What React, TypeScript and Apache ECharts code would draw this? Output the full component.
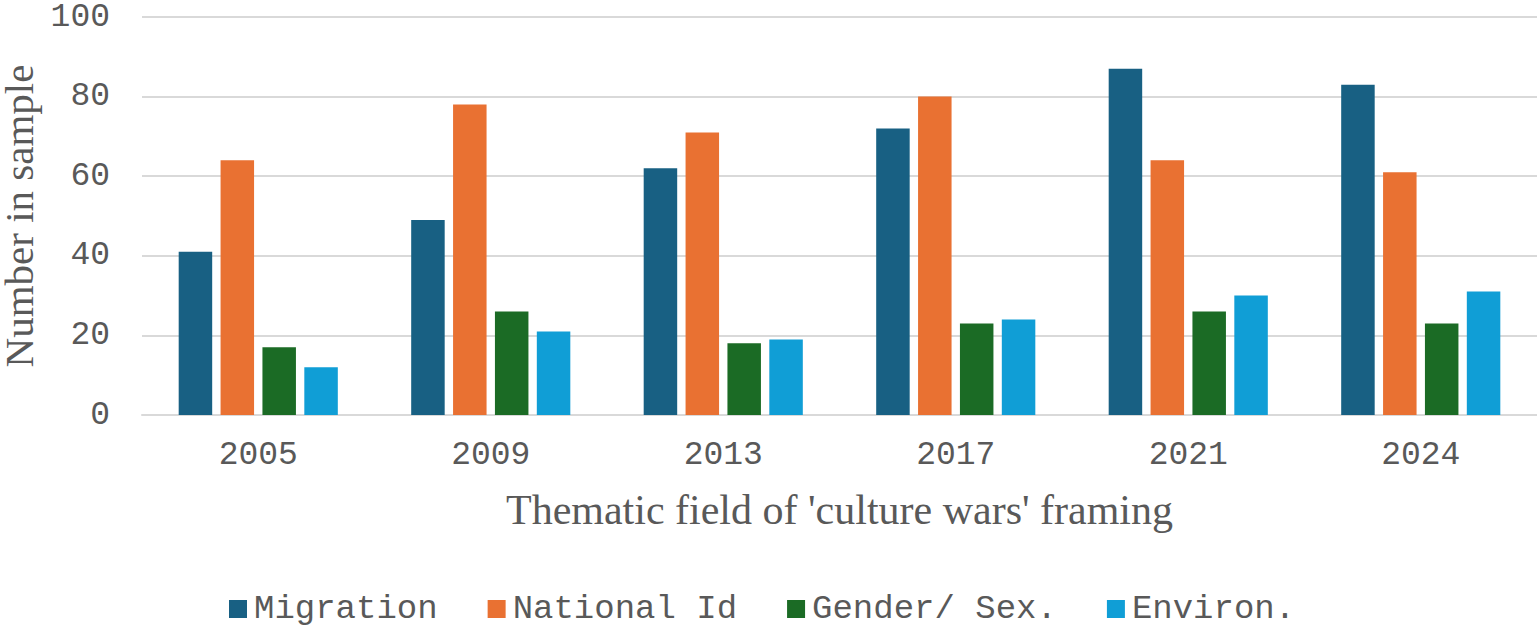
import React, { useEffect, useRef } from "react";
import * as echarts from "echarts";

const years = ["2005", "2009", "2013", "2017", "2021", "2024"];
const seriesNames = ["Migration", "National Id", "Gender/ Sex.", "Environ."];
const migration = [41, 49, 62, 72, 87, 83];
const nationalId = [64, 78, 71, 80, 64, 61];
const genderSex = [17, 26, 18, 23, 26, 23];
const environ = [12, 21, 19, 24, 30, 31];
const colors = ["#186083", "#E97132", "#1B6B25", "#109ED6"];
const yTicks = { min: 0, max: 100, interval: 20 };

const mono = "'Courier New', 'Liberation Mono', monospace";
const serif = "'Times New Roman', 'Liberation Serif', serif";
const grey = "#595959";

export default function App() {
  const ref = useRef<HTMLDivElement>(null);
  useEffect(() => {
    if (!ref.current) return;
    const chart = echarts.init(ref.current, undefined, { renderer: "svg" });
    const values = [migration, nationalId, genderSex, environ];
    chart.setOption({
      animation: false,
      backgroundColor: "#ffffff",
      grid: { left: 142, right: 0, top: 17, bottom: 214, containLabel: false, outerBoundsMode: "none" },
      legend: {
        left: 224,
        top: 587,
        itemWidth: 18,
        itemHeight: 18,
        itemGap: 50,
        icon: "rect",
        textStyle: { fontFamily: mono, fontSize: 34, lineHeight: 32, color: grey, padding: [0, 0, 0, 2] },
        data: seriesNames,
      },
      xAxis: {
        type: "category",
        data: years,
        name: "Thematic field of 'culture wars' framing",
        nameLocation: "middle",
        nameGap: 74,
        nameTextStyle: { fontFamily: serif, fontSize: 42, color: grey },
        axisLine: { show: true, lineStyle: { color: "#D9D9D9", width: 2 } },
        axisTick: { show: false },
        axisLabel: { fontFamily: mono, fontSize: 33, color: grey, margin: 24 },
      },
      yAxis: {
        type: "value",
        min: yTicks.min,
        max: yTicks.max,
        interval: yTicks.interval,
        name: "Number in sample",
        nameLocation: "middle",
        nameRotate: 90,
        nameGap: 98,
        nameTextStyle: { fontFamily: serif, fontSize: 41, lineHeight: 36, color: grey },
        axisLine: { show: false },
        axisTick: { show: false },
        axisLabel: { fontFamily: mono, fontSize: 33, color: grey, margin: 32 },
        splitLine: { lineStyle: { color: "#D9D9D9", width: 2 } },
      },
      series: seriesNames.map((name, i) => ({
        name,
        type: "bar",
        data: values[i],
        barWidth: 33.5,
        barGap: "25%",
        itemStyle: { color: colors[i] },
      })),
    });
    return () => chart.dispose();
  }, []);
  return (
    <div
      ref={ref}
      style={{ position: "fixed", left: 0, top: 0, width: 1537, height: 629, background: "#fff" }}
    />
  );
}
